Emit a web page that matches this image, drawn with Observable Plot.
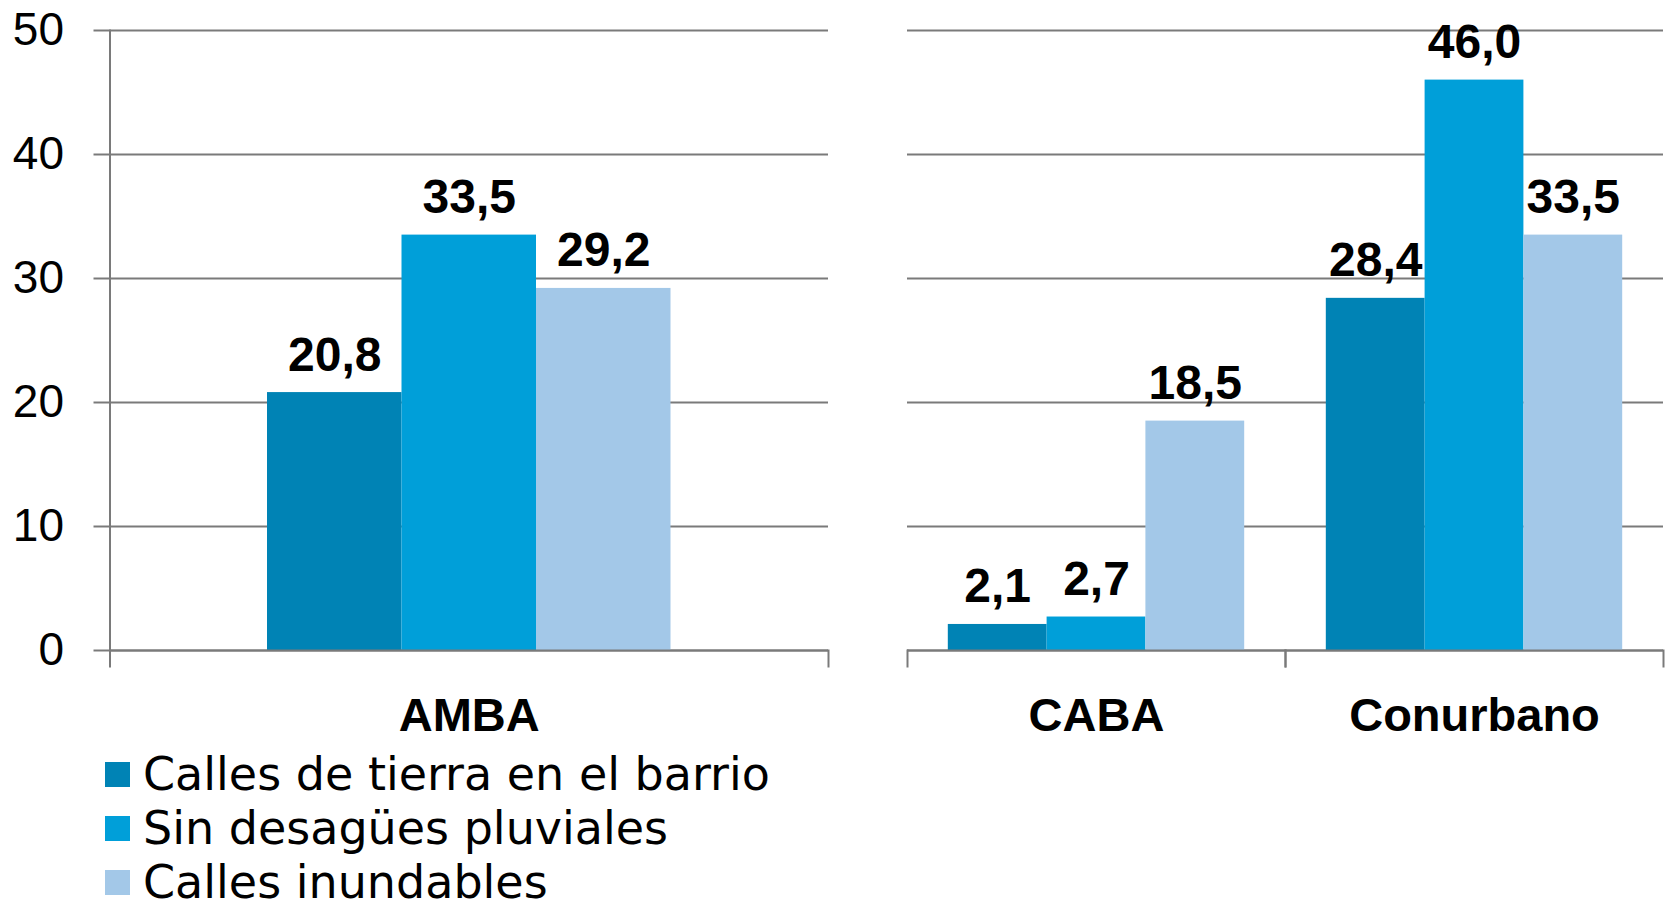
<!DOCTYPE html>
<html><head><meta charset="utf-8">
<script src="https://cdn.jsdelivr.net/npm/d3@7"></script>
<script src="https://cdn.jsdelivr.net/npm/@observablehq/plot@0.6"></script>
<style>
body{margin:0;background:#fff;}
#wrap{position:relative;width:1665px;height:912px;overflow:hidden;font-family:"Liberation Sans",Arial,sans-serif;}
#charts{display:flex;position:absolute;left:0;top:0;}
#legend{position:absolute;left:105px;top:747px;}
.row{display:flex;align-items:center;height:54px;font-size:46px;font-family:"DejaVu Sans",sans-serif;color:#000;white-space:nowrap;}
.row span.t{line-height:40px;}
.sw{width:25px;height:25px;margin-right:13px;flex:none;}
</style></head><body><div id="wrap"><div id="charts"></div><div id="legend"></div></div>
<script>
const series = ["Calles de tierra en el barrio", "Sin desagües pluviales", "Calles inundables"];
const colors = ["#0083B5", "#009FD9", "#A3C8E8"];
const leftRegions = ["AMBA"];
const rightRegions = ["CABA", "Conurbano"];
const amba = [20.8, 33.5, 29.2];
const caba = [2.1, 2.7, 18.5];
const conurbano = [28.4, 46.0, 33.5];
const yTicks = [0, 10, 20, 30, 40, 50];

const rows = (region, vals) => vals.map((v, i) => ({region, series: series[i], value: v}));
const leftData = rows("AMBA", amba);
const rightData = [...rows("CABA", caba), ...rows("Conurbano", conurbano)];

const gray = "#7a7a7a";
const H = 747, TOP = 30, ZERO = 650, FRAME_BOTTOM = 666;
const fmt = d => d.toFixed(1).replace(".", ",");

function panel({regions, data, width, marginLeft, marginRight, paddingOuter, withAxis}) {
  const marks = [
    Plot.ruleY(yTicks, {stroke: gray, strokeWidth: 2}),
    Plot.barY(data, {fx: "region", x: "series", y: "value", fill: "series"}),
    Plot.ruleY([0], {stroke: gray, strokeWidth: 2}),
    Plot.text(data, {fx: "region", x: "series", y: "value", text: d => fmt(d.value),
      lineAnchor: "bottom", dy: -22, fontSize: 48, fontWeight: "bold", fill: "#000"}),
    Plot.frame({anchor: "right", insetTop: ZERO - TOP, stroke: gray, strokeWidth: 2}),
    Plot.axisFx({anchor: "bottom", tickSize: 0, tickPadding: 31, fontSize: 47, fontWeight: "bold", fill: "#000", label: null})
  ];
  if (withAxis) {
    marks.push(Plot.frame({anchor: "left", stroke: gray, strokeWidth: 2}));
    marks.push(Plot.axisY({ticks: yTicks, tickSize: 16, tickPadding: 30, fontSize: 46, stroke: gray, strokeWidth: 2, fill: "#000", label: null, tickFormat: d => String(d)}));
  } else {
    marks.push(Plot.frame({anchor: "left", insetTop: ZERO - TOP, stroke: gray, strokeWidth: 2}));
  }
  return Plot.plot({
    width, height: H,
    marginLeft, marginRight, marginTop: TOP, marginBottom: H - FRAME_BOTTOM,
    style: {fontFamily: "'Liberation Sans', Arial, sans-serif", background: "transparent", overflow: "visible"},
    fx: {domain: regions, padding: 0, round: false},
    x: {domain: series, paddingInner: 0, paddingOuter, round: false, axis: null},
    y: {domain: [0, 50], range: [ZERO, TOP], axis: null},
    color: {domain: series, range: colors},
    marks
  });
}

const charts = document.getElementById("charts");
charts.append(panel({regions: leftRegions, data: leftData, width: 840, marginLeft: 109.5, marginRight: 12, paddingOuter: 1.171, withAxis: true}));
charts.append(panel({regions: rightRegions, data: rightData, width: 825, marginLeft: 67, marginRight: 2, paddingOuter: 0.413, withAxis: false}));

const legend = document.getElementById("legend");
series.forEach((s, i) => {
  const r = document.createElement("div");
  r.className = "row";
  const sw = document.createElement("span");
  sw.className = "sw";
  sw.style.background = colors[i];
  const t = document.createElement("span");
  t.className = "t";
  t.textContent = s;
  r.append(sw, t);
  legend.append(r);
});
</script></body></html>
